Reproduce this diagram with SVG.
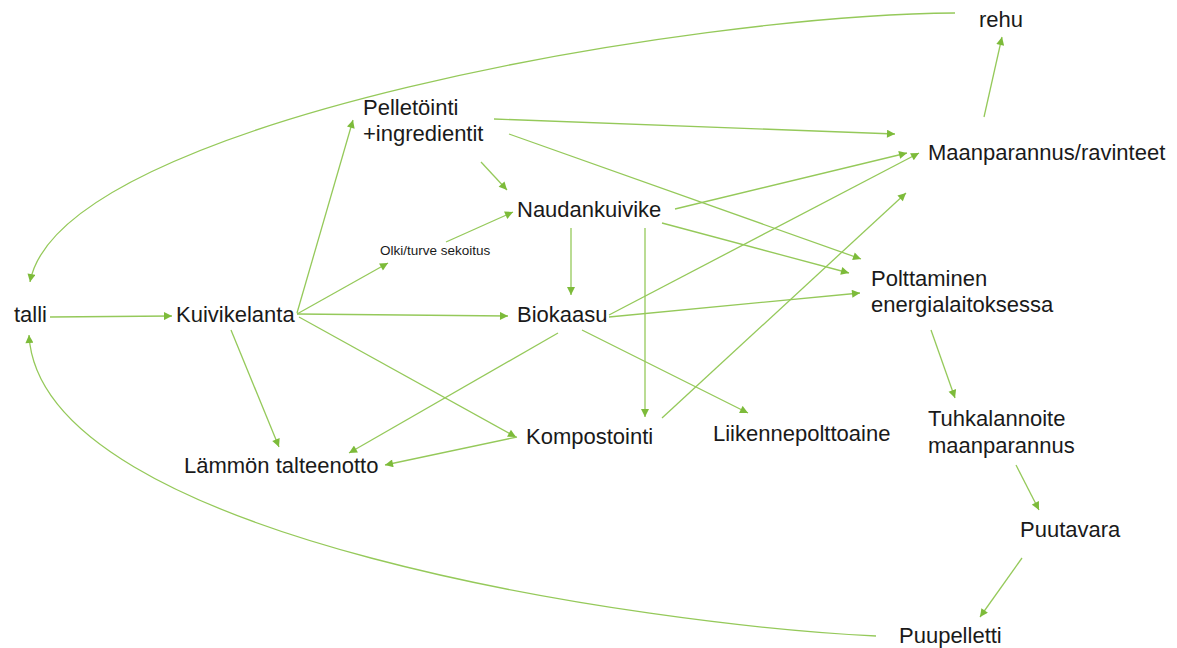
<svg xmlns="http://www.w3.org/2000/svg" width="1177" height="648" viewBox="0 0 1177 648">
<style>
.t{font-family:"Liberation Sans",Arial,sans-serif;font-size:22px;fill:#1a1a1a}
.s{font-family:"Liberation Sans",Arial,sans-serif;font-size:13.5px;fill:#1a1a1a}
.c path,.c line{stroke:#95c95a;stroke-width:1.3;fill:none;marker-end:url(#a)}
</style>
<defs>
<marker id="a" viewBox="0 0 10 10" refX="10" refY="5" markerWidth="9" markerHeight="8" markerUnits="userSpaceOnUse" orient="auto">
<path d="M0,0 L10,5 L0,10 z" fill="#7dbb3a"/>
</marker>
</defs>
<rect width="1177" height="648" fill="#fff"/>
<g class="c" id="connectors">
<line x1="50" y1="317" x2="172" y2="316"/>
<line x1="297" y1="313" x2="353" y2="120"/>
<line x1="297" y1="314" x2="388" y2="263"/>
<line x1="297" y1="314" x2="508" y2="316"/>
<line x1="299" y1="317" x2="516" y2="437"/>
<line x1="231" y1="330" x2="279" y2="447"/>
<line x1="446" y1="242" x2="513" y2="212"/>
<line x1="481" y1="162" x2="507" y2="190"/>
<line x1="571" y1="228" x2="571" y2="295"/>
<line x1="645" y1="228" x2="645" y2="417"/>
<line x1="675" y1="209" x2="907" y2="153"/>
<line x1="662" y1="223" x2="849" y2="273"/>
<line x1="494" y1="119" x2="895" y2="134"/>
<line x1="509" y1="134" x2="861" y2="259"/>
<line x1="609" y1="315" x2="919" y2="153"/>
<line x1="609" y1="317" x2="860" y2="293"/>
<line x1="558" y1="333" x2="349" y2="453"/>
<line x1="582" y1="330" x2="748" y2="413"/>
<line x1="517" y1="437" x2="385" y2="465"/>
<line x1="662" y1="418" x2="906" y2="193"/>
<line x1="984" y1="117" x2="1002" y2="37"/>
<line x1="931" y1="330" x2="955" y2="398"/>
<line x1="1016" y1="465" x2="1039" y2="510"/>
<line x1="1022" y1="558" x2="980" y2="617"/>
<path d="M955,13 C700,14 60,120 30,282"/>
<path d="M876,636 C650,625 40,540 29,335"/>
</g>
<g id="rehu"><text class="t" x="979" y="27">rehu</text></g>
<g id="pelletointi"><text class="t" x="363" y="115">Pelletöinti</text><text class="t" x="363" y="141">+ingredientit</text></g>
<g id="maanparannus"><text class="t" x="928" y="160">Maanparannus/ravinteet</text></g>
<g id="naudankuivike"><text class="t" x="517" y="217">Naudankuivike</text></g>
<g id="olki"><text class="s" x="380" y="255">Olki/turve sekoitus</text></g>
<g id="talli"><text class="t" x="14" y="322">talli</text></g>
<g id="kuivikelanta"><text class="t" x="176" y="322">Kuivikelanta</text></g>
<g id="biokaasu"><text class="t" x="517" y="322">Biokaasu</text></g>
<g id="polttaminen"><text class="t" x="871" y="286">Polttaminen</text><text class="t" x="871" y="312">energialaitoksessa</text></g>
<g id="kompostointi"><text class="t" x="526" y="444">Kompostointi</text></g>
<g id="liikenne"><text class="t" x="713" y="441">Liikennepolttoaine</text></g>
<g id="lammon"><text class="t" x="184" y="473">Lämmön talteenotto</text></g>
<g id="tuhka"><text class="t" x="928" y="426">Tuhkalannoite</text><text class="t" x="928" y="453">maanparannus</text></g>
<g id="puutavara"><text class="t" x="1020" y="537">Puutavara</text></g>
<g id="puupelletti"><text class="t" x="899" y="643">Puupelletti</text></g>
</svg>
